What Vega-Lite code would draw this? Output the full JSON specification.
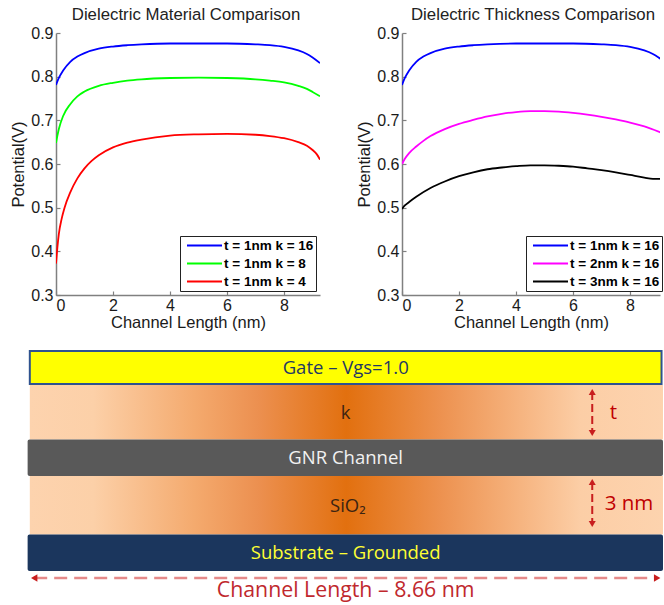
{
  "$schema": "https://vega.github.io/schema/vega-lite/v6.json",
  "spacing": 19,
  "padding": {"left": 10, "top": 7, "right": 0, "bottom": 0},
  "config": {
    "font": "Liberation Sans",
    "view": {"stroke": null},
    "axis": {
      "grid": false,
      "domainColor": "#808080",
      "domainWidth": 1.5,
      "tickColor": "#808080",
      "tickWidth": 1.2,
      "tickSize": -4,
      "labelFont": "Liberation Sans",
      "labelFontSize": 16,
      "labelColor": "#1a1a1a",
      "titleFont": "Liberation Sans",
      "titleFontSize": 16.5,
      "titleFontWeight": "normal",
      "titleColor": "#1a1a1a"
    },
    "axisX": {"labelPadding": 6, "titlePadding": 1},
    "axisY": {"labelPadding": 7, "titlePadding": 4},
    "title": {"font": "Liberation Sans", "fontSize": 16.8, "fontWeight": "normal", "color": "#222222", "offset": 1, "frame": "group", "anchor": "middle"},
    "legend": {
      "orient": "none",
      "title": null,
      "symbolType": "stroke",
      "symbolSize": 1225,
      "symbolStrokeWidth": 1.8,
      "symbolOffset": 4,
      "clipHeight": 15,
      "labelFont": "Liberation Sans",
      "labelFontSize": 13.5,
      "labelFontWeight": "bold",
      "labelColor": "#000000",
      "labelOffset": 1,
      "rowPadding": 3,
      "padding": 2,
      "strokeColor": "#222222",
      "fillColor": "#ffffff"
    }
  },
  "datasets": {
    "material": [
      {"x": 0, "v": 0.781, "s": "t = 1nm k = 16"},
      {"x": 0.1, "v": 0.797, "s": "t = 1nm k = 16"},
      {"x": 0.25, "v": 0.814, "s": "t = 1nm k = 16"},
      {"x": 0.5, "v": 0.834, "s": "t = 1nm k = 16"},
      {"x": 0.75, "v": 0.846, "s": "t = 1nm k = 16"},
      {"x": 1, "v": 0.854, "s": "t = 1nm k = 16"},
      {"x": 1.5, "v": 0.864, "s": "t = 1nm k = 16"},
      {"x": 2, "v": 0.869, "s": "t = 1nm k = 16"},
      {"x": 2.5, "v": 0.872, "s": "t = 1nm k = 16"},
      {"x": 3, "v": 0.874, "s": "t = 1nm k = 16"},
      {"x": 4, "v": 0.876, "s": "t = 1nm k = 16"},
      {"x": 5, "v": 0.876, "s": "t = 1nm k = 16"},
      {"x": 6, "v": 0.876, "s": "t = 1nm k = 16"},
      {"x": 7, "v": 0.874, "s": "t = 1nm k = 16"},
      {"x": 7.5, "v": 0.872, "s": "t = 1nm k = 16"},
      {"x": 8, "v": 0.868, "s": "t = 1nm k = 16"},
      {"x": 8.5, "v": 0.86, "s": "t = 1nm k = 16"},
      {"x": 8.8, "v": 0.852, "s": "t = 1nm k = 16"},
      {"x": 9, "v": 0.844, "s": "t = 1nm k = 16"},
      {"x": 9.26, "v": 0.831, "s": "t = 1nm k = 16"},
      {"x": 0, "v": 0.648, "s": "t = 1nm k = 8"},
      {"x": 0.05, "v": 0.665, "s": "t = 1nm k = 8"},
      {"x": 0.1, "v": 0.68, "s": "t = 1nm k = 8"},
      {"x": 0.25, "v": 0.71, "s": "t = 1nm k = 8"},
      {"x": 0.5, "v": 0.737, "s": "t = 1nm k = 8"},
      {"x": 0.75, "v": 0.755, "s": "t = 1nm k = 8"},
      {"x": 1, "v": 0.766, "s": "t = 1nm k = 8"},
      {"x": 1.5, "v": 0.779, "s": "t = 1nm k = 8"},
      {"x": 2, "v": 0.786, "s": "t = 1nm k = 8"},
      {"x": 2.5, "v": 0.791, "s": "t = 1nm k = 8"},
      {"x": 3, "v": 0.794, "s": "t = 1nm k = 8"},
      {"x": 4, "v": 0.797, "s": "t = 1nm k = 8"},
      {"x": 5, "v": 0.798, "s": "t = 1nm k = 8"},
      {"x": 6, "v": 0.797, "s": "t = 1nm k = 8"},
      {"x": 7, "v": 0.794, "s": "t = 1nm k = 8"},
      {"x": 7.5, "v": 0.791, "s": "t = 1nm k = 8"},
      {"x": 8, "v": 0.787, "s": "t = 1nm k = 8"},
      {"x": 8.5, "v": 0.779, "s": "t = 1nm k = 8"},
      {"x": 8.8, "v": 0.772, "s": "t = 1nm k = 8"},
      {"x": 9, "v": 0.765, "s": "t = 1nm k = 8"},
      {"x": 9.26, "v": 0.755, "s": "t = 1nm k = 8"},
      {"x": 0, "v": 0.372, "s": "t = 1nm k = 4"},
      {"x": 0.05, "v": 0.41, "s": "t = 1nm k = 4"},
      {"x": 0.1, "v": 0.44, "s": "t = 1nm k = 4"},
      {"x": 0.2, "v": 0.475, "s": "t = 1nm k = 4"},
      {"x": 0.3, "v": 0.5, "s": "t = 1nm k = 4"},
      {"x": 0.5, "v": 0.535, "s": "t = 1nm k = 4"},
      {"x": 0.75, "v": 0.567, "s": "t = 1nm k = 4"},
      {"x": 1, "v": 0.59, "s": "t = 1nm k = 4"},
      {"x": 1.25, "v": 0.607, "s": "t = 1nm k = 4"},
      {"x": 1.5, "v": 0.62, "s": "t = 1nm k = 4"},
      {"x": 2, "v": 0.638, "s": "t = 1nm k = 4"},
      {"x": 2.5, "v": 0.649, "s": "t = 1nm k = 4"},
      {"x": 3, "v": 0.656, "s": "t = 1nm k = 4"},
      {"x": 4, "v": 0.665, "s": "t = 1nm k = 4"},
      {"x": 5, "v": 0.668, "s": "t = 1nm k = 4"},
      {"x": 6, "v": 0.669, "s": "t = 1nm k = 4"},
      {"x": 7, "v": 0.667, "s": "t = 1nm k = 4"},
      {"x": 7.5, "v": 0.664, "s": "t = 1nm k = 4"},
      {"x": 8, "v": 0.659, "s": "t = 1nm k = 4"},
      {"x": 8.5, "v": 0.65, "s": "t = 1nm k = 4"},
      {"x": 8.8, "v": 0.642, "s": "t = 1nm k = 4"},
      {"x": 9, "v": 0.632, "s": "t = 1nm k = 4"},
      {"x": 9.15, "v": 0.622, "s": "t = 1nm k = 4"},
      {"x": 9.26, "v": 0.61, "s": "t = 1nm k = 4"}
    ],
    "thickness": [
      {"x": 0, "v": 0.781, "s": "t = 1nm k = 16"},
      {"x": 0.1, "v": 0.797, "s": "t = 1nm k = 16"},
      {"x": 0.25, "v": 0.814, "s": "t = 1nm k = 16"},
      {"x": 0.5, "v": 0.834, "s": "t = 1nm k = 16"},
      {"x": 0.75, "v": 0.846, "s": "t = 1nm k = 16"},
      {"x": 1, "v": 0.854, "s": "t = 1nm k = 16"},
      {"x": 1.5, "v": 0.864, "s": "t = 1nm k = 16"},
      {"x": 2, "v": 0.869, "s": "t = 1nm k = 16"},
      {"x": 2.5, "v": 0.872, "s": "t = 1nm k = 16"},
      {"x": 3, "v": 0.874, "s": "t = 1nm k = 16"},
      {"x": 4, "v": 0.876, "s": "t = 1nm k = 16"},
      {"x": 5, "v": 0.876, "s": "t = 1nm k = 16"},
      {"x": 6, "v": 0.876, "s": "t = 1nm k = 16"},
      {"x": 7, "v": 0.874, "s": "t = 1nm k = 16"},
      {"x": 7.5, "v": 0.872, "s": "t = 1nm k = 16"},
      {"x": 8, "v": 0.868, "s": "t = 1nm k = 16"},
      {"x": 8.5, "v": 0.86, "s": "t = 1nm k = 16"},
      {"x": 8.8, "v": 0.852, "s": "t = 1nm k = 16"},
      {"x": 9, "v": 0.844, "s": "t = 1nm k = 16"},
      {"x": 9.26, "v": 0.831, "s": "t = 1nm k = 16"},
      {"x": 0, "v": 0.6, "s": "t = 2nm k = 16"},
      {"x": 0.1, "v": 0.612, "s": "t = 2nm k = 16"},
      {"x": 0.25, "v": 0.625, "s": "t = 2nm k = 16"},
      {"x": 0.5, "v": 0.64, "s": "t = 2nm k = 16"},
      {"x": 0.75, "v": 0.653, "s": "t = 2nm k = 16"},
      {"x": 1, "v": 0.664, "s": "t = 2nm k = 16"},
      {"x": 1.5, "v": 0.68, "s": "t = 2nm k = 16"},
      {"x": 2, "v": 0.692, "s": "t = 2nm k = 16"},
      {"x": 2.5, "v": 0.701, "s": "t = 2nm k = 16"},
      {"x": 3, "v": 0.709, "s": "t = 2nm k = 16"},
      {"x": 3.5, "v": 0.715, "s": "t = 2nm k = 16"},
      {"x": 4, "v": 0.719, "s": "t = 2nm k = 16"},
      {"x": 4.5, "v": 0.721, "s": "t = 2nm k = 16"},
      {"x": 5, "v": 0.721, "s": "t = 2nm k = 16"},
      {"x": 5.5, "v": 0.72, "s": "t = 2nm k = 16"},
      {"x": 6, "v": 0.717, "s": "t = 2nm k = 16"},
      {"x": 6.5, "v": 0.713, "s": "t = 2nm k = 16"},
      {"x": 7, "v": 0.708, "s": "t = 2nm k = 16"},
      {"x": 7.5, "v": 0.702, "s": "t = 2nm k = 16"},
      {"x": 8, "v": 0.695, "s": "t = 2nm k = 16"},
      {"x": 8.5, "v": 0.686, "s": "t = 2nm k = 16"},
      {"x": 9, "v": 0.674, "s": "t = 2nm k = 16"},
      {"x": 9.26, "v": 0.667, "s": "t = 2nm k = 16"},
      {"x": 0, "v": 0.497, "s": "t = 3nm k = 16"},
      {"x": 0.1, "v": 0.505, "s": "t = 3nm k = 16"},
      {"x": 0.25, "v": 0.513, "s": "t = 3nm k = 16"},
      {"x": 0.5, "v": 0.525, "s": "t = 3nm k = 16"},
      {"x": 1, "v": 0.545, "s": "t = 3nm k = 16"},
      {"x": 1.5, "v": 0.56, "s": "t = 3nm k = 16"},
      {"x": 2, "v": 0.572, "s": "t = 3nm k = 16"},
      {"x": 2.5, "v": 0.581, "s": "t = 3nm k = 16"},
      {"x": 3, "v": 0.588, "s": "t = 3nm k = 16"},
      {"x": 3.5, "v": 0.592, "s": "t = 3nm k = 16"},
      {"x": 4, "v": 0.595, "s": "t = 3nm k = 16"},
      {"x": 4.5, "v": 0.597, "s": "t = 3nm k = 16"},
      {"x": 5, "v": 0.597, "s": "t = 3nm k = 16"},
      {"x": 5.5, "v": 0.596, "s": "t = 3nm k = 16"},
      {"x": 6, "v": 0.594, "s": "t = 3nm k = 16"},
      {"x": 6.5, "v": 0.59, "s": "t = 3nm k = 16"},
      {"x": 7, "v": 0.586, "s": "t = 3nm k = 16"},
      {"x": 7.5, "v": 0.581, "s": "t = 3nm k = 16"},
      {"x": 8, "v": 0.575, "s": "t = 3nm k = 16"},
      {"x": 8.5, "v": 0.569, "s": "t = 3nm k = 16"},
      {"x": 8.8, "v": 0.566, "s": "t = 3nm k = 16"},
      {"x": 9, "v": 0.566, "s": "t = 3nm k = 16"},
      {"x": 9.26, "v": 0.567, "s": "t = 3nm k = 16"}
    ],
    "stack": [
      {"layer": "Gate", "x0": 0, "x1": 8.66, "top": 0.1, "bottom": 3.4},
      {"layer": "k", "x0": 0, "x1": 8.68, "top": 3.5, "bottom": 8.95},
      {"layer": "GNR Channel", "x0": -0.03, "x1": 8.68, "top": 8.95, "bottom": 12.6},
      {"layer": "SiO2", "x0": 0, "x1": 8.68, "top": 12.6, "bottom": 18.45},
      {"layer": "Substrate", "x0": -0.03, "x1": 8.68, "top": 18.45, "bottom": 22.1}
    ],
    "labels": [
      {"text": "Gate – Vgs=1.0", "kind": "gate", "x": 4.33, "depth": 1.8},
      {"text": "k", "kind": "dielectric", "x": 4.33, "depth": 6.3},
      {"text": "GNR Channel", "kind": "channel", "x": 4.33, "depth": 10.75},
      {"text": "SiO₂", "kind": "dielectric", "x": 4.36, "depth": 15.6},
      {"text": "Substrate – Grounded", "kind": "substrate", "x": 4.33, "depth": 20.3}
    ],
    "thicknessArrows": [
      {"name": "t", "x": 7.71, "headTop": 4.2, "headBottom": 8.3, "labelX": 7.95, "labelDepth": 6.3},
      {"name": "3 nm", "x": 7.71, "headTop": 13.2, "headBottom": 17.4, "labelX": 7.88, "labelDepth": 15.4}
    ],
    "lengthArrow": [
      {"headLeft": 0.06, "headRight": 8.6, "depth": 22.8, "mid": 4.33, "labelDepth": 24.1, "text": "Channel Length – 8.66 nm"}
    ]
  },
  "vconcat": [
    {
      "bounds": "flush",
      "spacing": 82,
      "resolve": {"scale": {"color": "independent"}, "legend": {"color": "independent"}},
      "hconcat": [
        {
          "width": 264,
          "height": 262,
          "title": {"text": "Dielectric Material Comparison", "dx": -2},
          "data": {"name": "material"},
          "mark": {"type": "line", "strokeWidth": 1.8, "interpolate": "monotone", "clip": true},
          "encoding": {
            "x": {"field": "x", "type": "quantitative", "title": "Channel Length (nm)",
                  "scale": {"domain": [0, 9.26], "nice": false, "zero": false},
                  "axis": {"values": [0, 2, 4, 6, 8], "format": "d"}},
            "y": {"field": "v", "type": "quantitative", "title": "Potential(V)",
                  "scale": {"domain": [0.3, 0.9], "nice": false, "zero": false},
                  "axis": {"values": [0.3, 0.4, 0.5, 0.6, 0.7, 0.8, 0.9], "format": ".1f"}},
            "color": {"field": "s", "type": "nominal",
                      "scale": {"domain": ["t = 1nm k = 16", "t = 1nm k = 8", "t = 1nm k = 4"], "range": ["#0000ff", "#00ff00", "#ff0000"]},
                      "legend": {"legendX": 124, "legendY": 203}}
          }
        },
        {
          "width": 258,
          "height": 262,
          "title": {"text": "Dielectric Thickness Comparison", "dx": 2},
          "data": {"name": "thickness"},
          "mark": {"type": "line", "strokeWidth": 1.8, "interpolate": "monotone", "clip": true},
          "encoding": {
            "x": {"field": "x", "type": "quantitative", "title": "Channel Length (nm)",
                  "scale": {"domain": [0, 9.05], "nice": false, "zero": false},
                  "axis": {"values": [0, 2, 4, 6, 8], "format": "d"}},
            "y": {"field": "v", "type": "quantitative", "title": "Potential(V)",
                  "scale": {"domain": [0.3, 0.9], "nice": false, "zero": false},
                  "axis": {"values": [0.3, 0.4, 0.5, 0.6, 0.7, 0.8, 0.9], "format": ".1f"}},
            "color": {"field": "s", "type": "nominal",
                      "scale": {"domain": ["t = 1nm k = 16", "t = 2nm k = 16", "t = 3nm k = 16"], "range": ["#0000ff", "#ff00ff", "#000000"]},
                      "legend": {"legendX": 124, "legendY": 203}}
          }
        }
      ]
    },
    {
      "width": 607,
      "height": 250,
      "layer": [
        {
          "data": {"name": "stack"},
          "transform": [{"filter": "datum.layer === 'k' || datum.layer === 'SiO2'"}],
          "mark": {"type": "rect", "fill": {"gradient": "linear", "x1": 0, "x2": 1, "y1": 0, "y2": 0,
            "stops": [
              {"offset": 0, "color": "#fdd3ae"},
              {"offset": 0.1, "color": "#fcd0a8"},
              {"offset": 0.26, "color": "#f4aa6e"},
              {"offset": 0.36, "color": "#ec9050"},
              {"offset": 0.5, "color": "#e2700f"},
              {"offset": 0.65, "color": "#ed9250"},
              {"offset": 0.76, "color": "#f5b07a"},
              {"offset": 0.87, "color": "#fccea6"},
              {"offset": 1, "color": "#fdd3ae"}
            ]}},
          "encoding": {
            "x": {"field": "x0", "type": "quantitative", "scale": {"domain": [0.359, 8.68], "nice": false, "zero": false}, "axis": null},
            "x2": {"field": "x1"},
            "y": {"field": "top", "type": "quantitative", "scale": {"domain": [0, 25], "reverse": true, "nice": false, "zero": false}, "axis": null},
            "y2": {"field": "bottom"}
          }
        },
        {
          "data": {"name": "stack"},
          "transform": [{"filter": "datum.layer === 'Gate'"}],
          "mark": {"type": "rect", "fill": "#ffff00", "stroke": "#2f528f", "strokeWidth": 2},
          "encoding": {
            "x": {"field": "x0", "type": "quantitative"},
            "x2": {"field": "x1"},
            "y": {"field": "top", "type": "quantitative"},
            "y2": {"field": "bottom"}
          }
        },
        {
          "data": {"name": "stack"},
          "transform": [{"filter": "datum.layer === 'GNR Channel' || datum.layer === 'Substrate'"}],
          "mark": {"type": "rect", "cornerRadius": 2},
          "encoding": {
            "x": {"field": "x0", "type": "quantitative"},
            "x2": {"field": "x1"},
            "y": {"field": "top", "type": "quantitative"},
            "y2": {"field": "bottom"},
            "fill": {"field": "layer", "type": "nominal", "legend": null,
                     "scale": {"domain": ["GNR Channel", "Substrate"], "range": ["#595959", "#1b365d"]}}
          }
        },
        {
          "data": {"name": "labels"},
          "mark": {"type": "text", "font": "Open Sans", "fontSize": 18.5, "align": "center", "baseline": "middle"},
          "encoding": {
            "x": {"field": "x", "type": "quantitative"},
            "y": {"field": "depth", "type": "quantitative"},
            "text": {"field": "text"},
            "color": {"field": "kind", "type": "nominal", "legend": null,
                      "scale": {"domain": ["gate", "dielectric", "channel", "substrate"], "range": ["#1f3864", "#3b2412", "#f2f2f2", "#ffff33"]}}
          }
        },
        {
          "data": {"name": "thicknessArrows"},
          "mark": {"type": "rule", "color": "#c81e1e", "strokeWidth": 2, "strokeDash": [8, 4]},
          "encoding": {
            "x": {"field": "x", "type": "quantitative"},
            "y": {"field": "headTop", "type": "quantitative"},
            "y2": {"field": "headBottom"}
          }
        },
        {
          "data": {"name": "thicknessArrows"},
          "mark": {"type": "point", "shape": "triangle-up", "filled": true, "size": 50, "color": "#c81e1e", "opacity": 1},
          "encoding": {
            "x": {"field": "x", "type": "quantitative"},
            "y": {"field": "headTop", "type": "quantitative"}
          }
        },
        {
          "data": {"name": "thicknessArrows"},
          "mark": {"type": "point", "shape": "triangle-down", "filled": true, "size": 50, "color": "#c81e1e", "opacity": 1},
          "encoding": {
            "x": {"field": "x", "type": "quantitative"},
            "y": {"field": "headBottom", "type": "quantitative"}
          }
        },
        {
          "data": {"name": "thicknessArrows"},
          "mark": {"type": "text", "font": "Open Sans", "fontSize": 20.5, "align": "left", "baseline": "middle", "color": "#c00000"},
          "encoding": {
            "x": {"field": "labelX", "type": "quantitative"},
            "y": {"field": "labelDepth", "type": "quantitative"},
            "text": {"field": "name"}
          }
        },
        {
          "data": {"name": "lengthArrow"},
          "mark": {"type": "rule", "color": "#e58a8a", "strokeWidth": 2.5, "strokeDash": [13, 7]},
          "encoding": {
            "x": {"field": "headLeft", "type": "quantitative"},
            "x2": {"field": "headRight"},
            "y": {"field": "depth", "type": "quantitative"}
          }
        },
        {
          "data": {"name": "lengthArrow"},
          "mark": {"type": "point", "shape": "triangle-left", "filled": true, "size": 55, "color": "#c81e1e", "opacity": 1},
          "encoding": {
            "x": {"field": "headLeft", "type": "quantitative"},
            "y": {"field": "depth", "type": "quantitative"}
          }
        },
        {
          "data": {"name": "lengthArrow"},
          "mark": {"type": "point", "shape": "triangle-right", "filled": true, "size": 55, "color": "#c81e1e", "opacity": 1},
          "encoding": {
            "x": {"field": "headRight", "type": "quantitative"},
            "y": {"field": "depth", "type": "quantitative"}
          }
        },
        {
          "data": {"name": "lengthArrow"},
          "mark": {"type": "text", "font": "Open Sans", "fontSize": 21.3, "align": "center", "baseline": "middle", "color": "#c0282d"},
          "encoding": {
            "x": {"field": "mid", "type": "quantitative"},
            "y": {"field": "labelDepth", "type": "quantitative"},
            "text": {"field": "text"}
          }
        }
      ]
    }
  ]
}
